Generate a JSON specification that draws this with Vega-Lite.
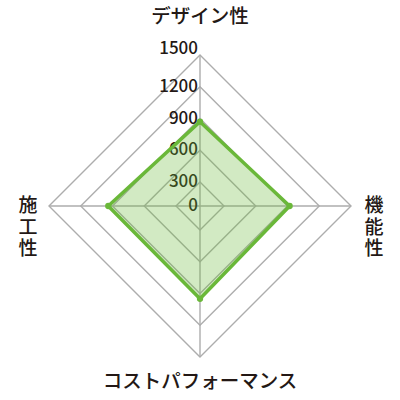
{
  "$schema": "https://vega.github.io/schema/vega-lite/v6.json",
  "width": 400,
  "height": 400,
  "autosize": "none",
  "padding": 0,
  "background": "white",
  "config": {"view": {"stroke": null}, "text": {"font": "Noto Sans CJK JP", "color": "#231815"}},
  "datasets": {
    "scores": [
      {"item": "デザイン性", "value": 870, "order": 0},
      {"item": "機能性", "value": 920, "order": 1},
      {"item": "コストパフォーマンス", "value": 950, "order": 2},
      {"item": "施工性", "value": 940, "order": 3}
    ],
    "levels": [
      {"level": 0}, {"level": 300}, {"level": 600}, {"level": 900}, {"level": 1200}, {"level": 1500}
    ],
    "grid": [
      {"level": 300, "order": 0}, {"level": 300, "order": 1}, {"level": 300, "order": 2}, {"level": 300, "order": 3},
      {"level": 600, "order": 0}, {"level": 600, "order": 1}, {"level": 600, "order": 2}, {"level": 600, "order": 3},
      {"level": 900, "order": 0}, {"level": 900, "order": 1}, {"level": 900, "order": 2}, {"level": 900, "order": 3},
      {"level": 1200, "order": 0}, {"level": 1200, "order": 1}, {"level": 1200, "order": 2}, {"level": 1200, "order": 3},
      {"level": 1500, "order": 0}, {"level": 1500, "order": 1}, {"level": 1500, "order": 2}, {"level": 1500, "order": 3}
    ]
  },
  "encoding": {
    "x": {
      "field": "x", "type": "quantitative", "axis": null,
      "scale": {"domain": [-1500, -300, 300, 1500], "range": [49, 176, 224, 351], "zero": false, "nice": false}
    },
    "y": {
      "field": "y", "type": "quantitative", "axis": null,
      "scale": {"domain": [-1500, -300, 300, 1500], "range": [357, 230, 182, 55], "zero": false, "nice": false}
    }
  },
  "layer": [
    {
      "data": {"name": "grid"},
      "transform": [
        {"calculate": "datum.level * sin(datum.order * PI / 2)", "as": "x"},
        {"calculate": "datum.level * cos(datum.order * PI / 2)", "as": "y"}
      ],
      "mark": {"type": "line", "interpolate": "linear-closed", "stroke": "#adadad", "strokeWidth": 1.4},
      "encoding": {
        "detail": {"field": "level", "type": "nominal"},
        "order": {"field": "order", "type": "quantitative"}
      }
    },
    {
      "data": {"name": "grid"},
      "transform": [
        {"filter": "datum.level == 1500"},
        {"calculate": "datum.level * sin(datum.order * PI / 2)", "as": "x"},
        {"calculate": "datum.level * cos(datum.order * PI / 2)", "as": "y"}
      ],
      "mark": {"type": "rule", "stroke": "#adadad", "strokeWidth": 1.4},
      "encoding": {
        "x2": {"datum": 0},
        "y2": {"datum": 0}
      }
    },
    {
      "data": {"name": "levels"},
      "transform": [
        {"filter": "datum.level < 1500"},
        {"calculate": "0", "as": "x"},
        {"calculate": "datum.level", "as": "y"}
      ],
      "mark": {"type": "text", "align": "right", "baseline": "middle", "dx": -2, "fontSize": 17, "fontWeight": 500},
      "encoding": {"text": {"field": "level", "type": "nominal"}}
    },
    {
      "data": {"name": "levels"},
      "transform": [
        {"filter": "datum.level == 1500"},
        {"calculate": "0", "as": "x"},
        {"calculate": "datum.level", "as": "y"}
      ],
      "mark": {"type": "text", "align": "right", "baseline": "middle", "dx": -2, "dy": -6, "fontSize": 17, "fontWeight": 500},
      "encoding": {"text": {"field": "level", "type": "nominal"}}
    },
    {
      "data": {"name": "scores"},
      "transform": [
        {"calculate": "datum.value * sin(datum.order * PI / 2)", "as": "x"},
        {"calculate": "datum.value * cos(datum.order * PI / 2)", "as": "y"}
      ],
      "mark": {"type": "line", "interpolate": "linear-closed", "stroke": "#6ab839", "strokeWidth": 3.5, "fill": "#6ab839", "fillOpacity": 0.3, "strokeJoin": "miter"},
      "encoding": {"order": {"field": "order", "type": "quantitative"}}
    },
    {
      "data": {"name": "scores"},
      "transform": [
        {"calculate": "datum.value * sin(datum.order * PI / 2)", "as": "x"},
        {"calculate": "datum.value * cos(datum.order * PI / 2)", "as": "y"}
      ],
      "mark": {"type": "point", "filled": true, "color": "#6ab839", "size": 40, "opacity": 1}
    },
    {
      "data": {"name": "scores"},
      "transform": [
        {"filter": "datum.order == 0"},
        {"calculate": "0", "as": "x"},
        {"calculate": "1500", "as": "y"}
      ],
      "mark": {"type": "text", "baseline": "middle", "align": "center", "dy": -38, "fontSize": 19.5, "fontWeight": 500},
      "encoding": {"text": {"field": "item", "type": "nominal"}}
    },
    {
      "data": {"name": "scores"},
      "transform": [
        {"filter": "datum.order == 2"},
        {"calculate": "0", "as": "x"},
        {"calculate": "-1500", "as": "y"}
      ],
      "mark": {"type": "text", "baseline": "middle", "align": "center", "dy": 25, "fontSize": 19.5, "fontWeight": 500},
      "encoding": {"text": {"field": "item", "type": "nominal"}}
    },
    {
      "data": {"name": "scores"},
      "transform": [
        {"filter": "datum.order == 1"},
        {"calculate": "1500", "as": "x"},
        {"calculate": "0", "as": "y"}
      ],
      "mark": {"type": "text", "baseline": "middle", "align": "center", "dx": 23, "fontSize": 19, "fontWeight": 500, "lineHeight": 21.5, "text": ["機", "能", "性"]}
    },
    {
      "data": {"name": "scores"},
      "transform": [
        {"filter": "datum.order == 3"},
        {"calculate": "-1500", "as": "x"},
        {"calculate": "0", "as": "y"}
      ],
      "mark": {"type": "text", "baseline": "middle", "align": "center", "dx": -21, "fontSize": 19, "fontWeight": 500, "lineHeight": 21.5, "text": ["施", "工", "性"]}
    }
  ]
}
